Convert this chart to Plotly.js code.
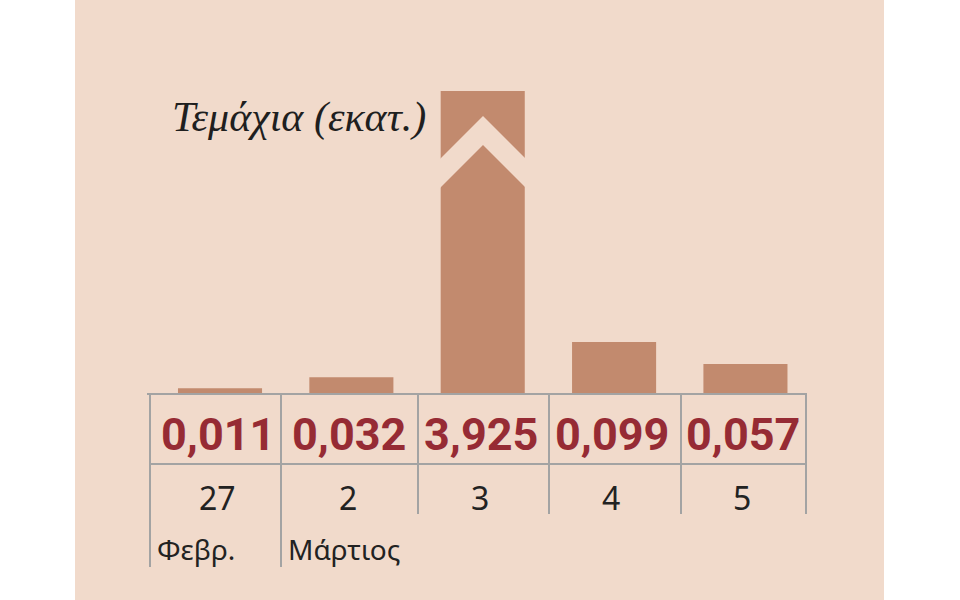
<!DOCTYPE html>
<html>
<head>
<meta charset="utf-8">
<script src="https://cdn.plot.ly/plotly-3.0.1.min.js"></script>
<style>html,body{margin:0;padding:0;background:#fff;}#chart{width:960px;height:600px;}</style>
</head>
<body>
<div id="chart"></div>
<script>
// ---- data ----
const days = ["27", "2", "3", "4", "5"];
const months = ["Φεβρ.", "Μάρτιος", "", "", ""];
const values = [0.011, 0.032, 3.925, 0.099, 0.057];
const valueLabels = ["0,011", "0,032", "3,925", "0,099", "0,057"];
const chartTitle = "Τεμάχια (εκατ.)";

// ---- styling ----
const W = 960, H = 600;
const panelColor = "#f1dacb";
const barColor = "#c28a6e";
const valueColor = "#962b34";
const gridColor = "#a3a3a3";
const px = x => x / W;
const py = y => 1 - y / H;

const trace = {
  type: "bar",
  x: days,
  y: values,
  width: 0.64,
  marker: {color: barColor, line: {width: 0}},
  hoverinfo: "skip",
  textposition: "none"
};

const shapes = [
  {type: "rect", xref: "paper", yref: "paper", x0: px(75), x1: px(884), y0: 0, y1: 1,
   fillcolor: panelColor, line: {width: 0}, layer: "below"},
  // break mark on the tall bar
  {type: "path", xref: "paper", yref: "paper", layer: "above",
   path: `M ${px(439)} ${py(160)} L ${px(483)} ${py(116)} L ${px(527)} ${py(160)} L ${px(527)} ${py(189)} L ${px(483)} ${py(145)} L ${px(439)} ${py(189)} Z`,
   fillcolor: panelColor, line: {width: 0}},
  // table lines
  {type: "line", xref: "paper", yref: "paper", x0: px(147), x1: px(807), y0: py(394), y1: py(394), line: {color: gridColor, width: 2}},
  {type: "line", xref: "paper", yref: "paper", x0: px(150), x1: px(807), y0: py(464), y1: py(464), line: {color: gridColor, width: 2}}
];
const vlines = [[150, 567], [281, 567], [418, 514], [549, 514], [681, 514], [806, 514]];
vlines.forEach(v => shapes.push({type: "line", xref: "paper", yref: "paper",
  x0: px(v[0]), x1: px(v[0]), y0: py(393), y1: py(v[1]), line: {color: gridColor, width: 2}}));

const annotations = [];
annotations.push({xref: "paper", yref: "paper", x: px(170), y: py(117), xanchor: "left", yanchor: "middle",
  text: chartTitle, showarrow: false,
  font: {family: "Liberation Serif", size: 42, color: "#1f1f1f", style: "italic"}});
days.forEach((d, i) => {
  annotations.push({xref: "x", yref: "paper", x: i, y: py(434), xanchor: "center", yanchor: "middle",
    xshift: -2, text: valueLabels[i], showarrow: false,
    font: {family: "Roboto", size: 45, color: valueColor, weight: 700}});
  annotations.push({xref: "x", yref: "paper", x: i, y: py(497), xanchor: "center", yanchor: "middle",
    xshift: -3, text: d, showarrow: false,
    font: {family: "Noto Sans", size: 32, color: "#222222"}});
});
const monthX = [155, 286];
months.forEach((m, i) => {
  if (!m) return;
  annotations.push({xref: "paper", yref: "paper", x: px(monthX[i]), y: py(549), xanchor: "left", yanchor: "middle",
    text: m, showarrow: false,
    font: {family: "Noto Sans", size: 28, color: "#222222"}});
});

const layout = {
  width: W, height: H,
  margin: {l: 0, r: 0, t: 0, b: 0, pad: 0},
  paper_bgcolor: "#ffffff",
  plot_bgcolor: "rgba(0,0,0,0)",
  showlegend: false,
  xaxis: {domain: [px(150), px(806)], type: "category", range: [-0.533, 4.461],
    showticklabels: false, showgrid: false, zeroline: false, showline: false, ticks: "", fixedrange: true},
  yaxis: {domain: [py(394), py(91)], range: [0, 0.577],
    showticklabels: false, showgrid: false, zeroline: false, showline: false, ticks: "", fixedrange: true},
  shapes: shapes,
  annotations: annotations
};

Plotly.newPlot("chart", [trace], layout, {staticPlot: true, displayModeBar: false});
</script>
</body>
</html>
